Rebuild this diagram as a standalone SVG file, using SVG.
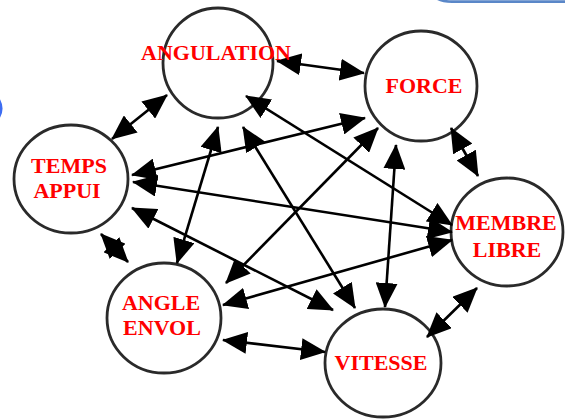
<svg xmlns="http://www.w3.org/2000/svg" width="565" height="419" viewBox="0 0 565 419">
  <style>
    .node { fill: #ffffff; stroke: #2a2a2a; stroke-width: 2.8; }
    .label { font-family: "Liberation Serif", "Times New Roman", serif; font-weight: bold; font-size: 22px; fill: #ff0000; text-anchor: middle; }
    .link { stroke: #000000; stroke-width: 2.6; fill: none; marker-start: url(#head); marker-end: url(#head); }
  </style>
  <defs>
    <marker id="head" markerUnits="userSpaceOnUse" markerWidth="25" markerHeight="22" refX="24" refY="11" orient="auto-start-reverse" viewBox="0 0 25 22">
      <path d="M0,0 L25,11 L0,22 Z" fill="#000000"/>
    </marker>
  </defs>

  <rect width="565" height="419" fill="#ffffff"/>

  <!-- frame edges of neighbouring shapes -->
  <path d="M434,-4 Q439,1.6 452,1.6 L566,1.6" fill="none" stroke="#5a87c8" stroke-width="2.6"/>
  <path d="M-1,100 Q3.5,108.5 -1,117" fill="none" stroke="#3d6df2" stroke-width="2.6"/>

  <g id="angulation">
    <ellipse class="node" cx="218" cy="63" rx="55" ry="55"/>
  </g>
  <g id="force">
    <ellipse class="node" cx="421" cy="86" rx="56" ry="55"/>
  </g>
  <g id="temps-appui">
    <ellipse class="node" cx="71" cy="179" rx="57" ry="54"/>
  </g>
  <g id="angle-envol">
    <ellipse class="node" cx="164" cy="318" rx="57" ry="55"/>
  </g>
  <g id="membre-libre">
    <ellipse class="node" cx="507" cy="232" rx="56" ry="54"/>
  </g>
  <g id="vitesse">
    <ellipse class="node" cx="383" cy="363" rx="58" ry="54"/>
  </g>

  <g id="connectors">
    <line class="link" x1="277" y1="61" x2="364" y2="73"/>
    <line class="link" x1="167" y1="95" x2="112" y2="139"/>
    <line class="link" x1="218" y1="127" x2="177" y2="263"/>
    <line class="link" x1="246" y1="96" x2="452" y2="225"/>
    <line class="link" x1="243" y1="127" x2="355" y2="308"/>
    <line class="link" x1="132" y1="175" x2="365" y2="118"/>
    <line class="link" x1="133" y1="182" x2="452" y2="232"/>
    <line class="link" x1="101" y1="234" x2="128" y2="262"/>
    <line class="link" x1="132" y1="208" x2="333" y2="310"/>
    <line class="link" x1="226" y1="283" x2="378" y2="128"/>
    <line class="link" x1="223" y1="340" x2="325" y2="352"/>
    <line class="link" x1="223" y1="305" x2="452" y2="240"/>
    <line class="link" x1="396" y1="145" x2="385" y2="307"/>
    <line class="link" x1="451" y1="128" x2="478" y2="176"/>
    <line class="link" x1="477" y1="288" x2="427" y2="337"/>
  </g>

  <g id="labels">
    <text class="label" x="216" y="60">ANGULATION</text>
    <text class="label" x="424" y="93">FORCE</text>
    <text class="label" x="69" y="173">TEMPS</text>
    <text class="label" x="67" y="198">APPUI</text>
    <text class="label" x="161" y="310">ANGLE</text>
    <text class="label" x="162" y="335">ENVOL</text>
    <text class="label" x="506" y="230">MEMBRE</text>
    <text class="label" x="507" y="257">LIBRE</text>
    <text class="label" x="381" y="370">VITESSE</text>
  </g>
</svg>
